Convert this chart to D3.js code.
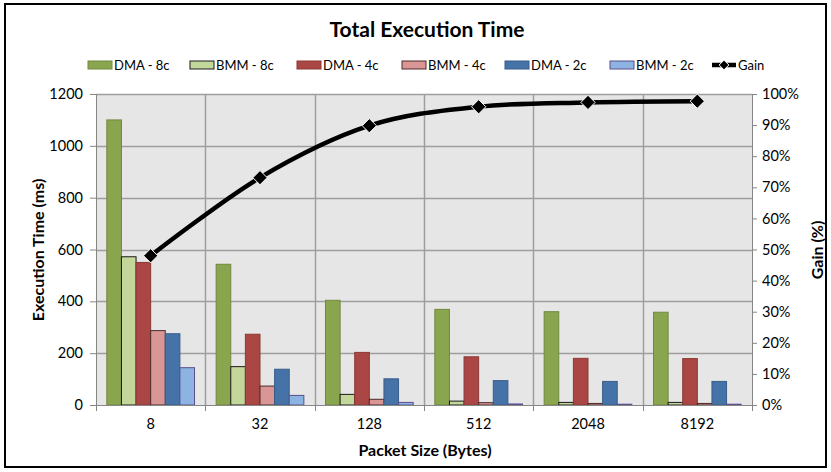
<!DOCTYPE html>
<html>
<head>
<meta charset="utf-8">
<script src="https://cdn.jsdelivr.net/npm/d3@7"></script>
<style>
  html, body { margin: 0; padding: 0; background: #fff; }
  svg { display: block; }
  text { font-family: Lato, "Open Sans", sans-serif; }
</style>
</head>
<body>
<svg id="chart" width="831" height="472"></svg>
<script>
const categories = ["8", "32", "128", "512", "2048", "8192"];
const seriesNames = ["DMA - 8c", "BMM - 8c", "DMA - 4c", "BMM - 4c", "DMA - 2c", "BMM - 2c"];
const dma8c = [1100, 543, 404, 369, 360, 358];
const bmm8c = [572, 148, 41, 15, 10, 10];
const dma4c = [550, 273, 203, 186, 180, 179];
const bmm4c = [287, 73, 22, 9, 6, 6];
const dma2c = [275, 138, 101, 94, 91, 91];
const bmm2c = [144, 37, 10, 4, 3, 3];
const gain = [0.48, 0.731, 0.898, 0.959, 0.973, 0.977];
const leftTicks = [0, 200, 400, 600, 800, 1000, 1200];
const rightTicks = [0, 0.1, 0.2, 0.3, 0.4, 0.5, 0.6, 0.7, 0.8, 0.9, 1.0];

const seriesValues = [dma8c, bmm8c, dma4c, bmm4c, dma2c, bmm2c];
const fills = ["#89a54e", "#c4d79b", "#aa4643", "#da9694", "#4572a7", "#8db3e2"];
const strokes = ["#71893f", "#1a1a1a", "#8c3836", "#4a2a2a", "#385d8a", "#5a4f8c"];

const svg = d3.select("#chart");
const plot = { left: 96, right: 752, top: 94, bottom: 405 };

// outer border
svg.append("rect").attr("x", 5).attr("y", 4).attr("width", 821).attr("height", 463)
  .attr("fill", "#fff").attr("stroke", "#000").attr("stroke-width", 2);

const x = d3.scaleBand().domain(categories).range([plot.left, plot.right]).padding(0);
const gapPx = x.bandwidth() * 0.099;
const xi = d3.scaleBand().domain(seriesNames).range([gapPx, x.bandwidth() - gapPx]).padding(0);
const y = d3.scaleLinear().domain([0, 1200]).range([plot.bottom, plot.top]);
const y2 = d3.scaleLinear().domain([0, 1]).range([plot.bottom, plot.top]);

// plot background
svg.append("rect").attr("x", plot.left).attr("y", plot.top)
  .attr("width", plot.right - plot.left).attr("height", plot.bottom - plot.top)
  .attr("fill", "#e6e6e6");

// horizontal gridlines
svg.append("g").selectAll("line").data(leftTicks.filter(d => d > 0)).join("line")
  .attr("x1", plot.left).attr("x2", plot.right)
  .attr("y1", d => Math.round(y(d)) + 0.5).attr("y2", d => Math.round(y(d)) + 0.5)
  .attr("stroke", "#9e9e9e").attr("stroke-width", 1.5);

// vertical gridlines at category boundaries
svg.append("g").selectAll("line").data(categories.slice(1)).join("line")
  .attr("x1", d => Math.round(x(d)) + 0.5).attr("x2", d => Math.round(x(d)) + 0.5)
  .attr("y1", plot.top).attr("y2", plot.bottom)
  .attr("stroke", "#9e9e9e").attr("stroke-width", 1.5);

// bars
const barG = svg.append("g");
seriesNames.forEach((s, si) => {
  barG.append("g").selectAll("rect").data(seriesValues[si]).join("rect")
    .attr("x", (d, i) => x(categories[i]) + xi(s))
    .attr("y", d => y(d))
    .attr("width", xi.bandwidth())
    .attr("height", d => plot.bottom - y(d))
    .attr("fill", fills[si])
    .attr("stroke", strokes[si])
    .attr("stroke-width", 1);
});

// left axis
const leftAxis = d3.axisLeft(y).tickValues(leftTicks).tickSize(6).tickPadding(7).tickFormat(d3.format("d"));
const gl = svg.append("g").attr("transform", `translate(${plot.left},0)`).call(leftAxis);
gl.select(".domain").attr("stroke", "#868686");
gl.selectAll(".tick line").attr("stroke", "#868686");
gl.selectAll(".tick text").attr("font-size", 14.5).attr("fill", "#000").attr("font-family", "Lato, sans-serif");

// right axis
const rightAxis = d3.axisRight(y2).tickValues(rightTicks).tickSize(5).tickPadding(5).tickFormat(d3.format(".0%"));
const gr = svg.append("g").attr("transform", `translate(${plot.right},0)`).call(rightAxis);
gr.select(".domain").attr("stroke", "#868686");
gr.selectAll(".tick line").attr("stroke", "#868686");
gr.selectAll(".tick text").attr("font-size", 14.5).attr("fill", "#000").attr("font-family", "Lato, sans-serif");

// bottom axis
const bottomAxis = d3.axisBottom(x).tickSize(0).tickPadding(14);
const gb = svg.append("g").attr("transform", `translate(0,${plot.bottom})`).call(bottomAxis);
gb.select(".domain").attr("stroke", "#868686");
gb.selectAll(".tick text").attr("font-size", 14.5).attr("fill", "#000").attr("font-family", "Lato, sans-serif");
gb.append("g").selectAll("line").data(categories.concat(["_end"])).join("line")
  .attr("x1", (d, i) => Math.round(i < categories.length ? x(d) : plot.right) + 0.5)
  .attr("x2", (d, i) => Math.round(i < categories.length ? x(d) : plot.right) + 0.5)
  .attr("y1", 0).attr("y2", 6).attr("stroke", "#868686");

// gain line
const line = d3.line()
  .x((d, i) => x(categories[i]) + x.bandwidth() / 2)
  .y(d => y2(d))
  .curve(d3.curveCatmullRom.alpha(0));
svg.append("path").datum(gain).attr("d", line)
  .attr("fill", "none").attr("stroke", "#000").attr("stroke-width", 4.5);
const diamond = d3.symbol().type(d3.symbolDiamond2).size(130);
svg.append("g").selectAll("path").data(gain).join("path")
  .attr("transform", (d, i) => `translate(${x(categories[i]) + x.bandwidth() / 2},${y2(d)})`)
  .attr("d", diamond)
  .attr("fill", "#000").attr("stroke", "#fff").attr("stroke-width", 1);

// title
svg.append("text").attr("x", 427).attr("y", 37).attr("text-anchor", "middle")
  .attr("font-size", 21).attr("font-weight", "bold").text("Total Execution Time");

// axis titles
svg.append("text").attr("transform", "translate(44,250) rotate(-90)").attr("text-anchor", "middle")
  .attr("font-size", 16).attr("font-weight", "bold").text("Execution Time (ms)");
svg.append("text").attr("transform", "translate(823,250) rotate(-90)").attr("text-anchor", "middle")
  .attr("font-size", 16).attr("font-weight", "bold").text("Gain (%)");
svg.append("text").attr("x", 425).attr("y", 456).attr("text-anchor", "middle")
  .attr("font-size", 16).attr("font-weight", "bold").text("Packet Size (Bytes)");

// legend
const legendX = [88, 190, 297, 402, 505, 610];
const lg = svg.append("g");
seriesNames.forEach((s, i) => {
  lg.append("rect").attr("x", legendX[i]).attr("y", 61).attr("width", 24).attr("height", 8)
    .attr("fill", fills[i]).attr("stroke", strokes[i]).attr("stroke-width", 1);
  lg.append("text").attr("x", legendX[i] + 26).attr("y", 70).attr("font-size", 13).text(s);
});
lg.append("line").attr("x1", 712).attr("x2", 736).attr("y1", 65).attr("y2", 65)
  .attr("stroke", "#000").attr("stroke-width", 4.5);
lg.append("path").attr("transform", "translate(724,65)").attr("d", d3.symbol().type(d3.symbolDiamond2).size(60))
  .attr("fill", "#000").attr("stroke", "#fff").attr("stroke-width", 1);
lg.append("text").attr("x", 738).attr("y", 70).attr("font-size", 13).text("Gain");
</script>
</body>
</html>
